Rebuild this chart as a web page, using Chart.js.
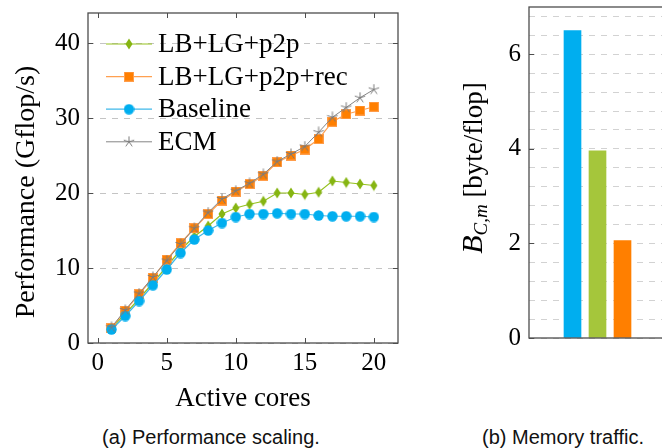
<!DOCTYPE html>
<html>
<head>
<meta charset="utf-8">
<script src="https://cdn.jsdelivr.net/npm/chart.js@4.4.1/dist/chart.umd.min.js"></script>
<style>
    html, body { margin: 0; padding: 0; background: #fff; overflow: hidden; width: 662px; height: 448px; }
    #perfChart { position: absolute; left: 0; top: 0; }
    #trafficChart { position: absolute; left: 440px; top: 0; }
    .caption { position: absolute; top: 425px; width: 200px; font-family: "Liberation Sans", Arial, sans-serif; font-size: 20px; line-height: 24px; color: #111; text-align: center; white-space: nowrap; }
</style>
</head>
<body>
<canvas id="perfChart" width="420" height="415"></canvas>
<canvas id="trafficChart" width="260" height="345"></canvas>
<div class="caption" style="left:102px">(a) Performance scaling.</div>
<div class="caption" style="left:463px">(b) Memory traffic.</div>
<script>
// values
const cores = [1, 2, 3, 4, 5, 6, 7, 8, 9, 10, 11, 12, 13, 14, 15, 16, 17, 18, 19, 20];
const lbLgP2p = [2.0, 3.9, 5.9, 8.0, 10.2, 12.4, 14.2, 15.6, 17.2, 18.0, 18.5, 18.9, 20.0, 20.0, 19.8, 20.1, 21.6, 21.4, 21.2, 21.0];
const lbLgP2pRec = [2.0, 4.3, 6.5, 8.7, 11.1, 13.3, 15.3, 17.2, 19.0, 20.2, 21.2, 22.3, 24.1, 25.0, 25.8, 27.2, 29.5, 30.5, 31.0, 31.5];
const baseline = [1.8, 3.6, 5.6, 7.7, 9.8, 12.0, 13.8, 15.0, 16.0, 16.8, 17.2, 17.2, 17.3, 17.2, 17.2, 17.0, 16.9, 16.9, 16.9, 16.8];
const ecm = [2.1, 4.4, 6.6, 8.8, 11.0, 13.2, 15.3, 17.4, 19.2, 20.3, 21.3, 22.5, 24.2, 25.2, 26.2, 28.1, 30.1, 31.4, 32.7, 33.8];

const variants = ['Baseline', 'LB+LG+p2p', 'LB+LG+p2p+rec'];
const traffic = [6.5, 3.96, 2.06];

const SERIF = '"Liberation Serif", "Times New Roman", serif';

// little canvases used as point markers
function makeMarker(kind, color) {
    const c = document.createElement('canvas');
    const g = c.getContext('2d');
    if (kind === 'diamond') {
        c.width = 8; c.height = 12;
        g.fillStyle = color;
        g.beginPath();
        g.moveTo(4, 0.5); g.lineTo(7.5, 6); g.lineTo(4, 11.5); g.lineTo(0.5, 6);
        g.closePath();
        g.fill();
    } else if (kind === 'square') {
        c.width = 10; c.height = 10;
        g.fillStyle = color;
        g.fillRect(0, 0, 10, 10);
        g.strokeStyle = '#ff9d4a';
        g.lineWidth = 1;
        g.strokeRect(0.5, 0.5, 9, 9);
    } else if (kind === 'circle') {
        c.width = 11; c.height = 11;
        g.fillStyle = color;
        g.beginPath();
        g.arc(5.5, 5.5, 5.2, 0, Math.PI * 2);
        g.fill();
    } else {
        c.width = 12; c.height = 12;
        g.strokeStyle = color;
        g.lineWidth = 1;
        g.beginPath();
        for (let k = 0; k < 5; k++) {
            const a = -Math.PI / 2 + k * 2 * Math.PI / 5;
            g.moveTo(6, 6);
            g.lineTo(6 + 5.5 * Math.cos(a), 6 + 5.5 * Math.sin(a));
        }
        g.stroke();
    }
    return c;
}

// keep the plot box where the layout puts it, without label overhang
function fixPadding(s) {
    s.paddingTop = 0;
    s.paddingBottom = 0;
    s.paddingLeft = 0;
    s.paddingRight = 0;
}

// frame, inward ticks, rotated y title and in-plot legend
const framePlugin = {
    id: 'frame',
    afterDraw(chart, args, opts) {
        const ctx = chart.ctx;
        const a = chart.chartArea;
        ctx.save();
        ctx.strokeStyle = opts.color;
        ctx.lineWidth = 1;
        (opts.tickAxes || []).forEach(function(id) {
            const s = chart.scales[id];
            s.ticks.forEach(function(t) {
                if (t.label === '') return;
                const p = Math.round(s.getPixelForValue(t.value)) + 0.5;
                ctx.beginPath();
                if (s.isHorizontal()) {
                    ctx.moveTo(p, a.bottom); ctx.lineTo(p, a.bottom - 5);
                    ctx.moveTo(p, a.top); ctx.lineTo(p, a.top + 5);
                } else {
                    ctx.moveTo(a.left, p); ctx.lineTo(a.left + 5, p);
                    ctx.moveTo(a.right, p); ctx.lineTo(a.right - 5, p);
                }
                ctx.stroke();
            });
        });
        ctx.lineWidth = 1.3;
        ctx.strokeRect(a.left, a.top, a.right - a.left, a.bottom - a.top);

        const vt = opts.vtitle;
        if (vt) {
            ctx.fillStyle = '#000';
            ctx.textBaseline = 'alphabetic';
            ctx.textAlign = 'left';
            let total = 0;
            vt.parts.forEach(function(p) { ctx.font = p.font; total += ctx.measureText(p.text).width; });
            ctx.translate(vt.x, vt.y);
            ctx.rotate(-Math.PI / 2);
            let x = -total / 2;
            vt.parts.forEach(function(p) {
                ctx.font = p.font;
                ctx.fillText(p.text, x, p.dy || 0);
                x += ctx.measureText(p.text).width;
            });
            ctx.setTransform(1, 0, 0, 1, 0, 0);
        }

        const lg = opts.legend;
        if (lg) {
            ctx.font = lg.font;
            ctx.textBaseline = 'alphabetic';
            ctx.textAlign = 'left';
            chart.data.datasets.forEach(function(ds, i) {
                const y = lg.top + i * lg.gap;
                ctx.strokeStyle = ds.borderColor;
                ctx.lineWidth = ds.borderWidth;
                ctx.beginPath();
                ctx.moveTo(lg.x0, y); ctx.lineTo(lg.x1, y);
                ctx.stroke();
                const m = ds.pointStyle;
                ctx.drawImage(m, (lg.x0 + lg.x1) / 2 - m.width / 2, y - m.height / 2);
                ctx.fillStyle = '#000';
                ctx.fillText(ds.label, lg.textX, y + 8);
            });
        }
        ctx.restore();
    }
};

function series(values) {
    return cores.map(function(c, i) { return { x: c, y: values[i] }; });
}

function initPerfChart() {
    const ctx = document.getElementById('perfChart').getContext('2d');
    new Chart(ctx, {
        type: 'line',
        data: {
            datasets: [{
                label: 'LB+LG+p2p',
                data: series(lbLgP2p),
                borderColor: '#95c11f',
                borderWidth: 1.2,
                pointStyle: makeMarker('diamond', '#86b512'),
                pointRadius: 5,
                order: 4
            }, {
                label: 'LB+LG+p2p+rec',
                data: series(lbLgP2pRec),
                borderColor: '#ffa050',
                borderWidth: 1.2,
                pointStyle: makeMarker('square', '#ff7f00'),
                pointRadius: 5,
                order: 3
            }, {
                label: 'Baseline',
                data: series(baseline),
                borderColor: '#3fb8ea',
                borderWidth: 1.2,
                pointStyle: makeMarker('circle', '#00aeef'),
                pointRadius: 5,
                order: 2
            }, {
                label: 'ECM',
                data: series(ecm),
                borderColor: '#858585',
                borderWidth: 1,
                pointStyle: makeMarker('star', '#7a7a7a'),
                pointRadius: 5,
                order: 1
            }]
        },
        options: {
            responsive: false,
            animation: false,
            devicePixelRatio: 1,
            layout: { padding: { top: 13, right: 22, left: 0, bottom: 0 } },
            plugins: {
                legend: { display: false },
                tooltip: { enabled: false },
                frame: {
                    color: '#4d4d4d',
                    tickAxes: ['x', 'y'],
                    vtitle: { x: 34, y: 192, parts: [{ text: 'Performance (Gflop/s)', font: '28px ' + SERIF }] },
                    legend: { x0: 106, x1: 152, textX: 158, top: 44, gap: 32.6, font: '27px ' + SERIF }
                }
            },
            scales: {
                x: {
                    type: 'linear',
                    min: -0.7,
                    max: 21.75,
                    ticks: { stepSize: 5, includeBounds: false, maxRotation: 0, padding: 5, color: '#000', font: { family: SERIF, size: 25 } },
                    grid: { display: false, drawTicks: false },
                    border: { display: false },
                    title: { display: true, text: 'Active cores', color: '#000', padding: 0, font: { family: SERIF, size: 27 } },
                    afterFit: function(s) { s.height = 72; fixPadding(s); }
                },
                y: {
                    min: 0,
                    max: 44,
                    ticks: { stepSize: 10, includeBounds: false, padding: 8, color: '#000', font: { family: SERIF, size: 25 } },
                    grid: { color: '#c4c4c4', drawTicks: false },
                    border: { display: false, dash: [6, 6] },
                    afterFit: function(s) { s.width = 88; fixPadding(s); }
                }
            }
        },
        plugins: [framePlugin]
    });
}

function initTrafficChart() {
    const ctx = document.getElementById('trafficChart').getContext('2d');
    new Chart(ctx, {
        type: 'bar',
        data: {
            datasets: [{
                label: 'Memory traffic',
                data: variants.map(function(v, i) { return { x: i + 1, y: traffic[i] }; }),
                backgroundColor: ['#00aeef', '#a5c63b', '#ff7f00'],
                borderWidth: 0,
                barThickness: 17
            }]
        },
        options: {
            responsive: false,
            animation: false,
            devicePixelRatio: 1,
            layout: { padding: { top: 7, right: 0, left: 0, bottom: 7 } },
            plugins: {
                legend: { display: false },
                tooltip: { enabled: false },
                frame: {
                    color: '#4d4d4d',
                    tickAxes: ['y'],
                    vtitle: { x: 41.7, y: 168, parts: [
                        { text: 'B', font: 'italic 30px ' + SERIF },
                        { text: 'C,m', font: 'italic 19px ' + SERIF, dy: 5 },
                        { text: ' [byte/flop]', font: '27px ' + SERIF }
                    ] }
                }
            },
            scales: {
                x: { type: 'linear', min: -0.74, max: 6.1, offset: false, display: false },
                y: {
                    min: 0,
                    max: 7,
                    ticks: {
                        stepSize: 0.4,
                        includeBounds: false,
                        autoSkip: false,
                        padding: 8,
                        color: '#000',
                        font: { family: SERIF, size: 25 },
                        callback: function(v) { return Math.abs(v / 2 - Math.round(v / 2)) < 1e-6 ? String(Math.round(v)) : ''; }
                    },
                    grid: { color: '#d2d2d2', drawTicks: false },
                    border: { display: false, dash: [6, 6] },
                    afterFit: function(s) { s.width = 89; fixPadding(s); }
                }
            }
        },
        plugins: [framePlugin]
    });
}

document.addEventListener('DOMContentLoaded', function() {
    initPerfChart();
    initTrafficChart();
});
</script>
</body>
</html>
